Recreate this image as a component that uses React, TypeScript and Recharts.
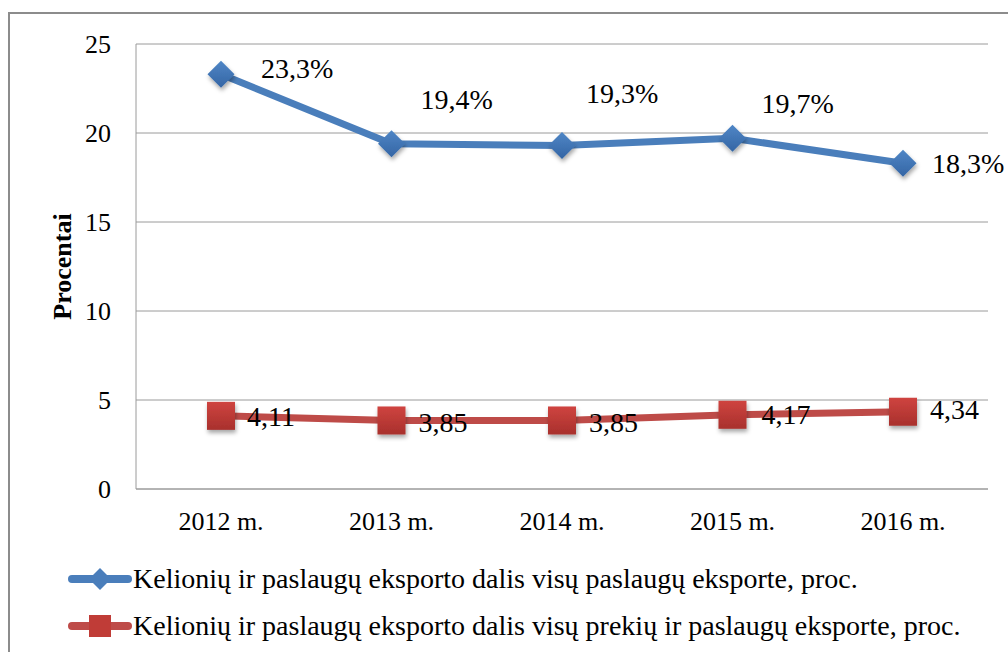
import React from 'react';
import { LineChart, Line, XAxis, YAxis, CartesianGrid, LabelList } from 'recharts';

const years = ['2012 m.', '2013 m.', '2014 m.', '2015 m.', '2016 m.'];
const servicesShare = [23.3, 19.4, 19.3, 19.7, 18.3];
const goodsServicesShare = [4.11, 3.85, 3.85, 4.17, 4.34];
const yTicks = [0, 5, 10, 15, 20, 25];

const servicesName = 'Kelionių ir paslaugų eksporto dalis visų paslaugų eksporte, proc.';
const goodsName = 'Kelionių ir paslaugų eksporto dalis visų prekių ir paslaugų eksporte, proc.';

const data = years.map((name, i) => ({
  name,
  services: servicesShare[i],
  goods: goodsServicesShare[i],
}));

const BLUE = '#4a7ebb';
const RED = '#be4b48';
const FONT = "'Liberation Serif', 'Times New Roman', Times, serif";

// label nudges (px) relative to each point, as in the original layout
const blueNudge = [
  [40, -6],
  [29, -44],
  [24, -52],
  [29, -35],
  [29, 0],
];
const redNudge = [
  [26, 1],
  [27, 2],
  [27, 2],
  [29, 0],
  [27, -2],
];

const fmt = (v: number, pct: boolean) =>
  (pct ? v.toFixed(1) : v.toFixed(2)).replace('.', ',') + (pct ? '%' : '');

const Diamond = (props: any) => {
  const { cx, cy, index } = props;
  if (cx == null || cy == null) return <g key={index} />;
  const r = 13.5;
  return (
    <path
      key={`d-${index}`}
      d={`M${cx},${cy - r}L${cx + r},${cy}L${cx},${cy + r}L${cx - r},${cy}Z`}
      fill="url(#blueMark)"
      filter="url(#shadow)"
    />
  );
};

const Square = (props: any) => {
  const { cx, cy, index } = props;
  if (cx == null || cy == null) return <g key={index} />;
  const s = 14;
  return (
    <rect
      key={`s-${index}`}
      x={cx - s}
      y={cy - s}
      width={s * 2}
      height={s * 2}
      fill="url(#redMark)"
      filter="url(#shadow)"
    />
  );
};

const makeLabel = (nudge: number[][], pct: boolean) => (props: any) => {
  const { x, y, value, index } = props;
  const [dx, dy] = nudge[index] || [0, 0];
  return (
    <text
      x={x + dx}
      y={y + dy}
      fill="#000"
      fontSize={28}
      style={{ fontFamily: FONT }}
      dominantBaseline="central"
    >
      {fmt(Number(value), pct)}
    </text>
  );
};

const YTitle = (props: any) => {
  const { viewBox } = props;
  const cx = 62;
  const cy = viewBox.y + viewBox.height / 2;
  return (
    <text
      x={cx}
      y={cy}
      transform={`rotate(-90, ${cx}, ${cy})`}
      textAnchor="middle"
      dominantBaseline="central"
      style={{ fontFamily: FONT }}
      fontWeight="bold"
      fontSize={26}
      fill="#000"
    >
      Procentai
    </text>
  );
};

const LegendRow = ({ color, marker, label, top }: any) => (
  <div
    style={{
      position: 'absolute',
      left: 68,
      top,
      display: 'flex',
      alignItems: 'center',
      fontFamily: FONT,
      fontSize: 28,
      whiteSpace: 'nowrap',
    }}
  >
    <svg width={64} height={30} style={{ marginRight: 1 }}>
      <line x1={4} y1={15} x2={60} y2={15} stroke={color} strokeWidth={8} strokeLinecap="round" />
      {marker === 'diamond' ? (
        <path d="M32,4L43,15L32,26L21,15Z" fill={color} />
      ) : (
        <rect x={21} y={4} width={22} height={22} fill="#c03c37" />
      )}
    </svg>
    <span>{label}</span>
  </div>
);

const tickStyle = { fontSize: 26, fill: '#000', fontFamily: FONT };

export default function App() {
  return (
    <div
      style={{
        position: 'absolute',
        left: 0,
        top: 0,
        width: 1008,
        height: 652,
        overflow: 'hidden',
        background: '#fff',
        fontFamily: FONT,
      }}
    >
      <div
        style={{
          position: 'absolute',
          left: 8,
          top: 12,
          width: 1100,
          height: 700,
          border: '2px solid #8c8c8c',
        }}
      />
      <LineChart
        width={1008}
        height={652}
        data={data}
        margin={{ top: 44, right: 20, left: 0, bottom: 133 }}
        style={{ position: 'absolute', left: 0, top: 0, fontFamily: FONT }}
      >
        <defs>
          <linearGradient id="blueMark" x1="0" y1="0" x2="0" y2="1">
            <stop offset="0%" stopColor="#4f86c6" />
            <stop offset="100%" stopColor="#3465a4" />
          </linearGradient>
          <linearGradient id="redMark" x1="0" y1="0" x2="0" y2="1">
            <stop offset="0%" stopColor="#cf4440" />
            <stop offset="100%" stopColor="#a8302c" />
          </linearGradient>
          <filter id="shadow" x="-50%" y="-50%" width="200%" height="200%">
            <feDropShadow dx="1" dy="3" stdDeviation="2" floodColor="#000" floodOpacity="0.35" />
          </filter>
        </defs>
        <CartesianGrid vertical={false} stroke="#9a9a9a" strokeWidth={1} />
        <XAxis
          dataKey="name"
          axisLine={{ stroke: '#9a9a9a' }}
          tickLine={false}
          tickSize={0}
          tickMargin={23}
          height={30}
          padding={{ left: 85, right: 85 }}
          tick={tickStyle}
          interval={0}
        />
        <YAxis
          domain={[0, 25]}
          ticks={yTicks}
          width={136}
          axisLine={{ stroke: '#9a9a9a' }}
          tickLine={false}
          tickSize={0}
          tickMargin={25}
          tick={tickStyle}
          label={<YTitle />}
        />
        <Line
          dataKey="services"
          stroke={BLUE}
          strokeWidth={7}
          dot={Diamond}
          activeDot={false}
          isAnimationActive={false}
        >
          <LabelList dataKey="services" content={makeLabel(blueNudge, true)} />
        </Line>
        <Line
          dataKey="goods"
          stroke={RED}
          strokeWidth={7}
          dot={Square}
          activeDot={false}
          isAnimationActive={false}
        >
          <LabelList dataKey="goods" content={makeLabel(redNudge, false)} />
        </Line>
      </LineChart>
      <LegendRow color={BLUE} marker="diamond" label={servicesName} top={563} />
      <LegendRow color={RED} marker="square" label={goodsName} top={610} />
    </div>
  );
}
